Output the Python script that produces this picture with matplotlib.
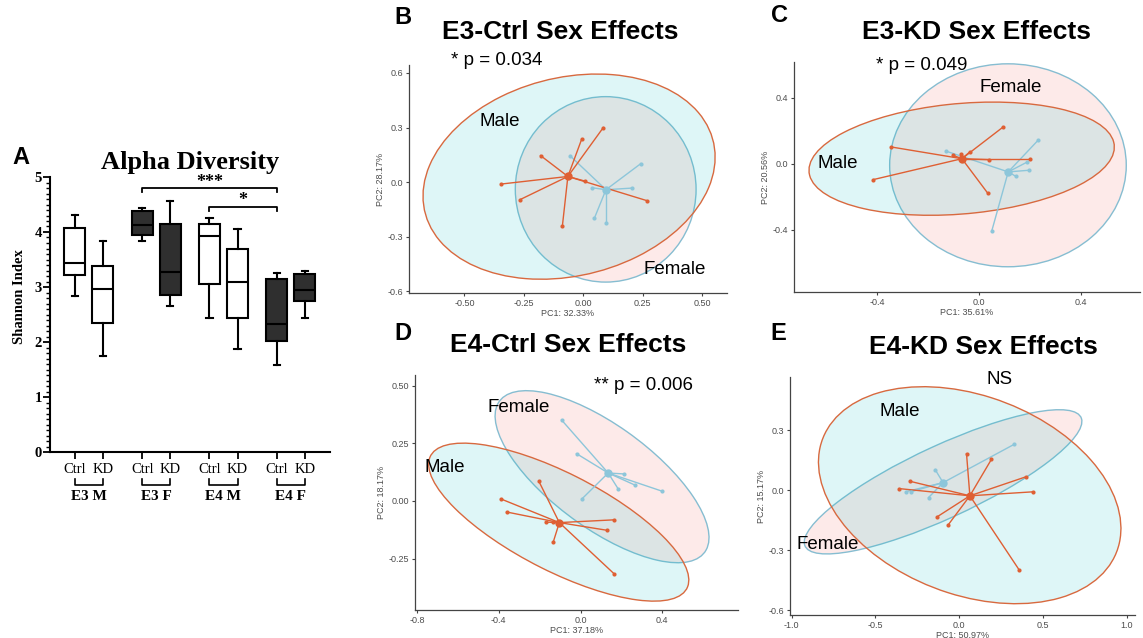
import numpy as np
import matplotlib
matplotlib.use("Agg")
import matplotlib.pyplot as plt
from matplotlib.colors import to_rgba
from matplotlib.patches import Ellipse

W, H = 1143, 638

# ---- Panel A: Shannon index box stats ----
diets = ["Ctrl", "KD"]
groups = ["E3 M", "E3 F", "E4 M", "E4 F"]
whislo = [2.83, 1.74, 3.83, 2.65, 2.43, 1.88, 1.59, 2.44]
q1 = [3.22, 2.35, 3.94, 2.86, 3.06, 2.43, 2.02, 2.74]
med = [3.44, 2.97, 4.13, 3.27, 3.92, 3.09, 2.33, 2.95]
q3 = [4.08, 3.38, 4.39, 4.14, 4.15, 3.70, 3.14, 3.23]
whishi = [4.31, 3.83, 4.44, 4.56, 4.25, 4.05, 3.25, 3.30]
dark = [False, False, True, True, False, False, True, True]

# ---- Panels B-E: PCoA scores (male / female), centroids, 95% ellipses ----
# B: E3-Ctrl
b_mx = [0.084, -0.007, -0.18, -0.347, -0.267, -0.088, 0.008, 0.267]
b_my = [0.30, 0.236, 0.146, -0.011, -0.097, -0.24, 0.005, -0.102]
b_fx = [-0.056, 0.242, 0.037, 0.204, 0.046, 0.095]
b_fy = [0.145, 0.102, -0.031, -0.033, -0.20, -0.225]
b_mc = (-0.065, 0.031)
b_fc = (0.095, -0.042)
b_mell = (-0.06, 0.03, 1.296, 1.05, 33)
b_fell = (0.094, -0.04, 0.76, 1.02, 0)

# C: E3-KD
c_mx = [0.094, -0.346, -0.417, -0.037, -0.073, -0.102, 0.039, 0.199, 0.033]
c_my = [0.222, 0.101, -0.097, 0.071, 0.057, 0.05, 0.024, 0.03, -0.178]
c_fx = [-0.129, 0.231, 0.189, 0.197, 0.144, 0.049]
c_fy = [0.075, 0.141, 0.01, -0.04, -0.077, -0.41]
c_mc = (-0.068, 0.030)
c_fc = (0.114, -0.05)
c_mell = (-0.069, 0.03, 1.212, 0.665, 9.6)
c_fell = (0.113, -0.01, 0.93, 1.23, 0)

# D: E4-Ctrl
d_mx = [-0.204, -0.391, -0.362, -0.171, -0.137, 0.164, 0.127, -0.134, 0.164]
d_my = [0.085, 0.009, -0.048, -0.092, -0.092, -0.082, -0.127, -0.179, -0.316]
d_fx = [-0.093, -0.02, 0.212, 0.265, 0.184, 0.396, 0.008]
d_fy = [0.351, 0.205, 0.117, 0.069, 0.052, 0.043, 0.01]
d_mc = (-0.104, -0.094)
d_fc = (0.135, 0.121)
d_mell = (-0.107, -0.092, 1.38, 0.43, -24)
d_fell = (0.105, 0.105, 1.2, 0.46, -32)

# E: E4-KD
e_mx = [0.044, 0.193, 0.398, 0.442, -0.295, -0.357, -0.131, -0.064, 0.359]
e_my = [0.183, 0.155, 0.067, -0.008, 0.045, 0.008, -0.133, -0.172, -0.40]
e_fx = [0.329, -0.143, -0.289, -0.315, -0.183]
e_fy = [0.23, 0.103, -0.008, -0.007, -0.037]
e_mc = (0.064, -0.028)
e_fc = (-0.096, 0.038)
e_mell = (0.063, -0.025, 1.85, 1.01, -15)
e_fell = (-0.096, 0.042, 1.77, 0.37, 21)

ORANGE = "#df5f33"
ORANGE_EDGE = "#d8693f"
BLUE = "#8dc6da"
BLUE_EDGE = "#86bdd1"
CYAN_FILL = to_rgba("#00BFC4", 0.13)
PINK_FILL = to_rgba("#F8766D", 0.15)
SERIF = "Liberation Serif"
SANS = "Liberation Sans"


def rect(l, t, r, b):
    return [l / W, 1 - b / H, (r - l) / W, (b - t) / H]


fig = plt.figure(figsize=(W / 100, H / 100), dpi=100)

# ================= Panel A =================
axA = fig.add_axes(rect(50, 177, 330, 452))
pos = [0, 1, 2.4, 3.4, 4.8, 5.8, 7.2, 8.2]
stats = []
for i in range(len(pos)):
    stats.append({"whislo": whislo[i], "q1": q1[i], "med": med[i],
                  "q3": q3[i], "whishi": whishi[i]})
bp = axA.bxp(stats, positions=pos, widths=0.75, capwidths=0.22,
             patch_artist=True, showfliers=False,
             boxprops=dict(linewidth=1.5, edgecolor="black"),
             whiskerprops=dict(linewidth=1.5, color="black"),
             capprops=dict(linewidth=1.5, color="black"),
             medianprops=dict(linewidth=1.5, color="black"))
for box, d in zip(bp["boxes"], dark):
    box.set_facecolor("#2f2f2f" if d else "white")

axA.set_xlim(-0.89, 9.1)
axA.set_ylim(0, 5)
for s in ["top", "right"]:
    axA.spines[s].set_visible(False)
axA.spines["left"].set_linewidth(1.5)
axA.spines["bottom"].set_linewidth(1.5)
axA.set_yticks(range(6))
axA.set_yticks(np.arange(0, 5.01, 0.1), minor=True)
axA.tick_params(axis="y", which="major", length=5, width=1.3, pad=1)
axA.tick_params(axis="y", which="minor", length=3, width=1)
axA.set_xticks(pos)
axA.set_xticklabels(diets * 4)
axA.tick_params(axis="x", length=5, width=1.3, pad=3)
for lab in axA.get_xticklabels():
    lab.set_fontfamily(SERIF)
    lab.set_fontsize(10.5)
for lab in axA.get_yticklabels():
    lab.set_fontfamily(SERIF)
    lab.set_fontsize(10.5)
    lab.set_fontweight("bold")

# group brackets under the tick labels
tr = axA.get_xaxis_transform()
for g, name in enumerate(groups):
    x0, x1 = pos[2 * g], pos[2 * g + 1]
    axA.plot([x0, x0, x1, x1], [-0.098, -0.12, -0.12, -0.098], color="black",
             lw=1.2, transform=tr, clip_on=False)
    axA.text((x0 + x1) / 2, -0.16, name, transform=tr, ha="center", va="center",
             fontfamily=SERIF, fontweight="bold", fontsize=11)

# significance bars
axA.plot([2.4, 2.4, 7.2, 7.2], [4.73, 4.8, 4.8, 4.73], color="black", lw=1.3, clip_on=False)
axA.text(4.8, 4.9, "***", ha="center", va="center", fontfamily=SERIF,
         fontweight="bold", fontsize=13)
axA.plot([4.8, 4.8, 7.2, 7.2], [4.38, 4.45, 4.45, 4.38], color="black", lw=1.3)
axA.text(6.0, 4.57, "*", ha="center", va="center", fontfamily=SERIF,
         fontweight="bold", fontsize=13)

fig.text(190 / W, 1 - 162 / H, "Alpha Diversity", ha="center", va="center",
         fontfamily=SERIF, fontweight="bold", fontsize=19)
fig.text(20 / W, 1 - 297 / H, "Shannon Index", rotation=90, ha="center", va="center",
         fontfamily=SERIF, fontweight="bold", fontsize=10.5)
fig.text(21 / W, 1 - 157 / H, "A", ha="center", va="center",
         fontfamily=SANS, fontweight="bold", fontsize=17)


# ================= PCoA panels =================
def pcoa(box, mx, my, mc, fx, fy, fc, mell, fell, xlim, ylim,
         xticks, xlabels, yticks, ylabels, xlab, ylab):
    ax = fig.add_axes(rect(*box))
    for e, fcol, ecol in [(fell, PINK_FILL, BLUE_EDGE), (mell, CYAN_FILL, ORANGE_EDGE)]:
        ax.add_patch(Ellipse((e[0], e[1]), e[2], e[3], angle=e[4],
                             facecolor=fcol, edgecolor=ecol, lw=1.0))
    for x, y in zip(fx, fy):
        ax.plot([fc[0], x], [fc[1], y], color=BLUE, lw=1.0)
    for x, y in zip(mx, my):
        ax.plot([mc[0], x], [mc[1], y], color=ORANGE, lw=1.0)
    ax.scatter(fx, fy, s=9, color=BLUE, zorder=3, linewidths=0)
    ax.scatter(mx, my, s=9, color=ORANGE, zorder=3, linewidths=0)
    ax.scatter([fc[0]], [fc[1]], s=36, color=BLUE, zorder=4, linewidths=0)
    ax.scatter([mc[0]], [mc[1]], s=36, color=ORANGE, zorder=4, linewidths=0)
    ax.set_xlim(*xlim)
    ax.set_ylim(*ylim)
    for s in ["top", "right"]:
        ax.spines[s].set_visible(False)
    for s in ["left", "bottom"]:
        ax.spines[s].set_color("#444444")
        ax.spines[s].set_linewidth(0.9)
    ax.set_xticks(xticks)
    ax.set_xticklabels(xlabels)
    ax.set_yticks(yticks)
    ax.set_yticklabels(ylabels)
    ax.tick_params(length=2.5, width=0.8, color="#444444", labelsize=6.5,
                   labelcolor="#4d4d4d", pad=1.5)
    ax.set_xlabel(xlab, fontsize=6.5, color="#4d4d4d", labelpad=1)
    ax.set_ylabel(ylab, fontsize=6.5, color="#4d4d4d", labelpad=2)
    return ax


plt.rcParams["font.family"] = [SANS, "DejaVu Sans"]

axB = pcoa((409, 65, 727, 293), b_mx, b_my, b_mc, b_fx, b_fy, b_fc, b_mell, b_fell,
           (-0.733, 0.604), (-0.61, 0.644),
           [-0.5, -0.25, 0, 0.25, 0.5], ["-0.50", "-0.25", "0.00", "0.25", "0.50"],
           [-0.6, -0.3, 0, 0.3, 0.6], ["-0.6", "-0.3", "0.0", "0.3", "0.6"],
           "PC1: 32.33%", "PC2: 28.17%")
axB.text(-0.35, 0.333, "Male", ha="center", va="center", fontsize=13.5)
axB.text(0.386, -0.48, "Female", ha="center", va="center", fontsize=13.5)
axB.text(-0.555, 0.671, "* p = 0.034", ha="left", va="center", fontsize=13.5)

axC = pcoa((794, 62, 1140, 292), c_mx, c_my, c_mc, c_fx, c_fy, c_fc, c_mell, c_fell,
           (-0.728, 0.632), (-0.778, 0.616),
           [-0.4, 0, 0.4], ["-0.4", "0.0", "0.4"],
           [-0.4, 0, 0.4], ["-0.4", "0.0", "0.4"],
           "PC1: 35.61%", "PC2: 20.56%")
axC.text(-0.555, 0.0, "Male", ha="center", va="center", fontsize=13.5)
axC.text(0.125, 0.46, "Female", ha="center", va="center", fontsize=13.5)
axC.text(-0.404, 0.596, "* p = 0.049", ha="left", va="center", fontsize=13.5)

axD = pcoa((415, 375, 738, 610), d_mx, d_my, d_mc, d_fx, d_fy, d_fc, d_mell, d_fell,
           (-0.81, 0.77), (-0.473, 0.546),
           [-0.8, -0.4, 0, 0.4], ["-0.8", "-0.4", "0.0", "0.4"],
           [-0.25, 0, 0.25, 0.5], ["-0.25", "0.00", "0.25", "0.50"],
           "PC1: 37.18%", "PC2: 18.17%")
axD.text(-0.305, 0.406, "Female", ha="center", va="center", fontsize=13.5)
axD.text(-0.663, 0.146, "Male", ha="center", va="center", fontsize=13.5)
axD.text(0.067, 0.5, "** p = 0.006", ha="left", va="center", fontsize=13.5)

axE = pcoa((790, 377, 1135, 615), e_mx, e_my, e_mc, e_fx, e_fy, e_fc, e_mell, e_fell,
           (-1.01, 1.05), (-0.625, 0.567),
           [-1, -0.5, 0, 0.5, 1], ["-1.0", "-0.5", "0.0", "0.5", "1.0"],
           [-0.6, -0.3, 0, 0.3], ["-0.6", "-0.3", "0.0", "0.3"],
           "PC1: 50.97%", "PC2: 15.17%")
axE.text(-0.355, 0.392, "Male", ha="center", va="center", fontsize=13.5)
axE.text(-0.783, -0.27, "Female", ha="center", va="center", fontsize=13.5)
axE.text(0.239, 0.553, "NS", ha="center", va="center", fontsize=13.5)

# titles and panel letters
titles = ["E3-Ctrl Sex Effects", "E3-KD Sex Effects", "E4-Ctrl Sex Effects", "E4-KD Sex Effects"]
title_xy = [(560, 32), (977, 32), (568, 345), (983, 347)]
letters = ["B", "C", "D", "E"]
letter_xy = [(403, 17), (780, 15), (403, 333), (778, 333)]
for t, (x, y) in zip(titles, title_xy):
    fig.text(x / W, 1 - y / H, t, ha="center", va="center", fontweight="bold", fontsize=19)
for t, (x, y) in zip(letters, letter_xy):
    fig.text(x / W, 1 - y / H, t, ha="center", va="center", fontweight="bold", fontsize=17)

fig.savefig("out.png", dpi=100)
